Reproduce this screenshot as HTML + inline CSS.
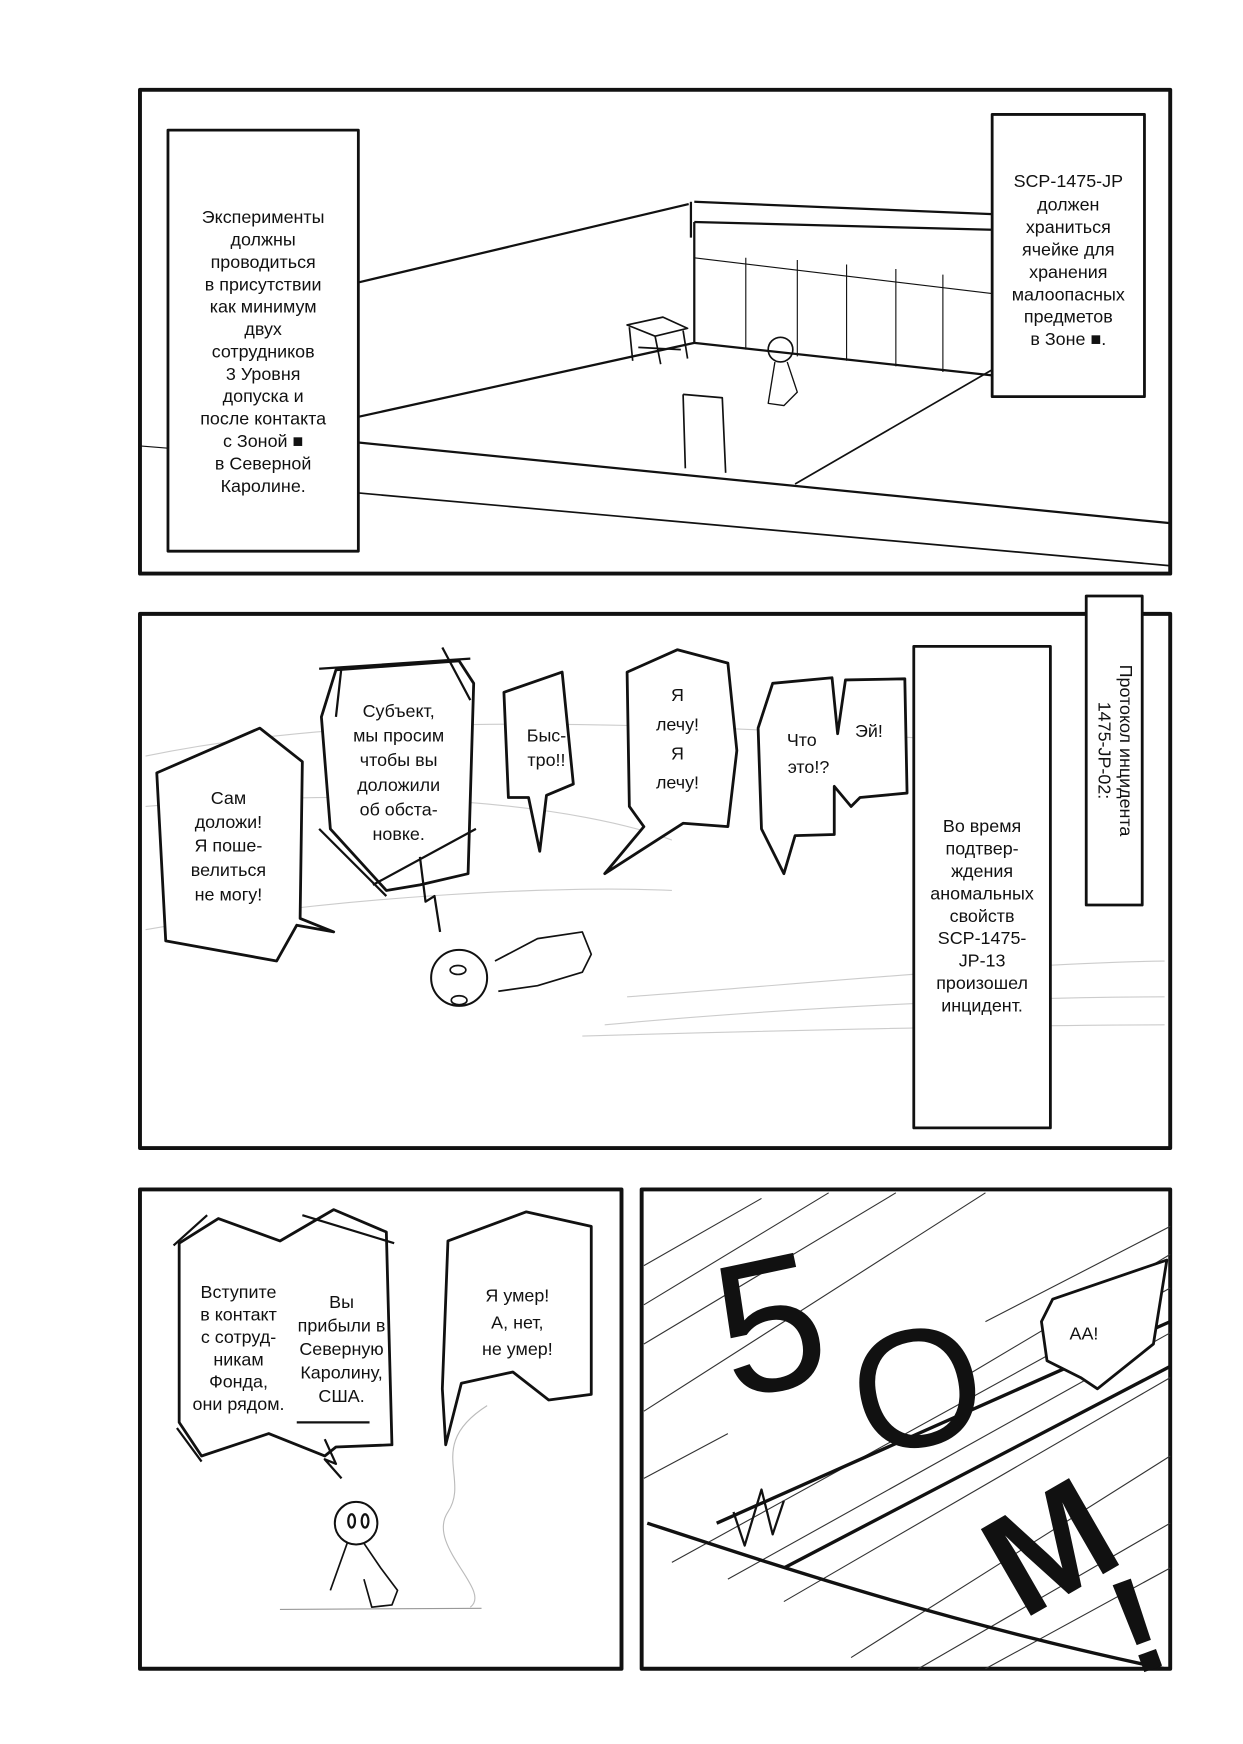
<!DOCTYPE html>
<html><head><meta charset="utf-8"><style>
html,body{margin:0;padding:0;background:#fff}
svg{display:block}
text{font-family:"Liberation Sans Narrow","Liberation Sans","DejaVu Sans",sans-serif;font-size:16px;fill:#111;text-anchor:middle}
</style></head><body>
<svg width="1243" height="1744" viewBox="0 0 1110 1557" xmlns="http://www.w3.org/2000/svg">
<rect width="1110" height="1557" fill="#fff"/>
<g fill="none" stroke="#111" stroke-linejoin="round">
<!-- panel 1 scene -->
<g stroke-width="2">
<path d="M320 252 L615 182"/>
<path d="M617 180 L617 212"/>
<path d="M620 180 L886 191"/>
<path d="M620 198 L886 205"/>
<path d="M620 198 L620 306 L886 335"/>
<path d="M620 230 L886 262" stroke-width="1"/>
<path d="M666 230 L666 312 M712 232 L712 318 M756 236 L756 322 M800 240 L800 327 M842 245 L842 332" stroke-width="1"/>
<path d="M320 372 L620 306"/>
<path d="M320 395 L1045 467"/>
<path d="M320 440 L1045 505" stroke-width="1.5"/>
<path d="M710 432 L886 330" stroke-width="1.5"/>
<path d="M125 398 L150 400" stroke-width="1"/>
<path d="M610 352 L645 355 L648 422 M610 352 L612 418" stroke-width="1.5"/>
<path d="M560 290 L592 283 L614 293 L585 300 Z M562 292 L565 322 M585 300 L590 325 M610 295 L614 320 M570 310 L608 312" stroke-width="1.5"/>
<circle cx="697" cy="312" r="11" stroke-width="1.5"/>
<path d="M692 323 L686 360 L700 362 L712 350 L703 323" stroke-width="1.2"/>
</g>
<!-- panel borders -->
<g stroke-width="3.5">
<rect x="125" y="80" width="920" height="432"/>
<rect x="125" y="548" width="920" height="477"/>
<rect x="125" y="1062" width="430" height="428"/>
<rect x="573" y="1062" width="472" height="428"/>
</g>
<!-- panel 1 captions -->
<g stroke-width="2.5" fill="#fff">
<rect x="150" y="116" width="170" height="376"/>
<rect x="886" y="102" width="136" height="252"/>
</g>
<!-- panel 2 -->
<g stroke="#ccc" stroke-width="1">
<path d="M130 675 C300 640 500 640 840 660"/>
<path d="M130 720 C350 700 520 720 600 750"/>
<path d="M130 830 C300 800 500 790 600 795"/>
<path d="M560 890 C700 880 900 860 1040 858"/>
<path d="M540 915 C700 900 900 890 1040 890"/>
<path d="M520 925 C700 920 900 915 1040 915"/>
</g>
<g stroke-width="2.5" fill="#fff">
<rect x="970" y="532" width="50" height="276"/>
<rect x="816" y="577" width="122" height="430"/>
<path d="M140 690 L232 650 L270 680 L268 820 L298 832 L265 826 L247 858 L148 840 Z"/>
<path d="M287 640 L300 598 L410 590 L423 610 L418 780 L375 790 L345 795 L295 740 Z"/>
<path d="M450 618 L502 600 L512 700 L488 710 L482 760 L472 712 L454 712 Z"/>
<path d="M560 600 L605 580 L650 592 L658 670 L650 738 L610 735 L540 780 L575 738 L562 720 Z"/>
<path d="M690 610 L743 605 L748 655 L755 607 L808 606 L810 708 L768 712 L760 720 L745 702 L745 745 L710 746 L700 780 L680 740 L677 650 Z"/>
</g>
<g stroke-width="2">
<path d="M285 597 L420 588 M300 640 L305 595 M395 578 L420 625 M285 740 L345 800 M333 790 L425 740 M375 765 L380 805 L388 800 L393 832"/>
<circle cx="410" cy="873" r="25" stroke-width="1.8"/>
<ellipse cx="409" cy="866" rx="7" ry="4" stroke-width="1.5"/>
<ellipse cx="410" cy="893" rx="7" ry="4" stroke-width="1.5"/>
<path d="M442 858 L480 838 L520 832 L528 852 L520 868 L480 880 L445 885" stroke-width="1.5"/>
</g>
<!-- panel 3 -->
<g stroke-width="2.5" fill="#fff">
<path d="M160 1110 L195 1088 L250 1108 L298 1080 L345 1100 L350 1290 L300 1292 L290 1300 L240 1280 L180 1300 L160 1270 Z"/>
<path d="M400 1108 L470 1082 L528 1095 L528 1245 L490 1250 L458 1225 L412 1235 L398 1290 L395 1240 Z"/>
</g>
<g stroke-width="2">
<path d="M155 1112 L185 1085 M270 1085 L352 1110 M158 1275 L180 1305 M265 1270 L330 1270 M290 1285 L300 1307 L290 1303 L305 1320"/>
<circle cx="318" cy="1360" r="19" stroke-width="1.8"/>
<ellipse cx="314" cy="1358" rx="3" ry="6"/><ellipse cx="326" cy="1358" rx="3" ry="6"/>
<path d="M310 1378 L295 1420 M325 1378 L340 1400 L355 1420 L350 1433 L332 1435 L325 1410" stroke-width="1.5"/>
<path d="M250 1437 L430 1436" stroke="#999" stroke-width="1"/>
</g>
<path d="M435 1255 C380 1290 420 1320 400 1350 C380 1380 440 1420 420 1435" stroke="#bbb" stroke-width="1"/>
<!-- panel 4 -->
<g stroke-width="1" stroke="#333">
<path d="M575 1130 L680 1070 M575 1165 L740 1065 M575 1200 L800 1065 M575 1260 L880 1065 M575 1320 L650 1280 M880 1180 L1045 1095 M860 1230 L1045 1120 M600 1395 L1045 1150 M650 1410 L1045 1190 M700 1430 L1045 1230 M760 1480 L1045 1300 M820 1490 L1045 1360 M880 1490 L1045 1400"/>
</g>
<g stroke-width="3">
<path d="M640 1360 L1045 1180"/>
<path d="M700 1400 L1045 1220"/>
<path d="M578 1360 C700 1400 850 1450 1040 1490"/>
<path d="M655 1350 L665 1380 L680 1330 L690 1370 L700 1340" stroke-width="2"/>
</g>
<path d="M940 1160 L1042 1125 L1030 1200 L980 1240 L965 1230 L935 1215 L930 1180 Z" fill="#fff" stroke-width="2.5"/>
</g>
<!-- panel 1 text -->
<text x="235" y="199">Эксперименты</text>
<text x="235" y="219">должны</text>
<text x="235" y="239">проводиться</text>
<text x="235" y="259">в присутствии</text>
<text x="235" y="279">как минимум</text>
<text x="235" y="299">двух</text>
<text x="235" y="319">сотрудников</text>
<text x="235" y="339">3 Уровня</text>
<text x="235" y="359">допуска и</text>
<text x="235" y="379">после контакта</text>
<text x="235" y="399">с Зоной ■</text>
<text x="235" y="419">в Северной</text>
<text x="235" y="439">Каролине.</text>
<text x="954" y="167">SCP-1475-JP</text>
<text x="954" y="188">должен</text>
<text x="954" y="208">храниться</text>
<text x="954" y="228">ячейке для</text>
<text x="954" y="248">хранения</text>
<text x="954" y="268">малоопасных</text>
<text x="954" y="288">предметов</text>
<text x="954" y="308">в Зоне ■.</text>
<!-- panel 2 text -->
<text transform="translate(1000,670) rotate(90)">Протокол инцидента</text>
<text transform="translate(981,670) rotate(90)">1475-JP-02:</text>
<text x="877" y="743">Во время</text>
<text x="877" y="763">подтвер-</text>
<text x="877" y="783">ждения</text>
<text x="877" y="803">аномальных</text>
<text x="877" y="823">свойств</text>
<text x="877" y="843">SCP-1475-</text>
<text x="877" y="863">JP-13</text>
<text x="877" y="883">произошел</text>
<text x="877" y="903">инцидент.</text>
<text x="204" y="718">Сам</text>
<text x="204" y="739">доложи!</text>
<text x="204" y="760">Я поше-</text>
<text x="204" y="782">велиться</text>
<text x="204" y="804">не могу!</text>
<text x="356" y="640">Субъект,</text>
<text x="356" y="662">мы просим</text>
<text x="356" y="684">чтобы вы</text>
<text x="356" y="706">доложили</text>
<text x="356" y="728">об обста-</text>
<text x="356" y="750">новке.</text>
<text x="488" y="662">Быс-</text>
<text x="488" y="684">тро!!</text>
<text x="605" y="626">Я</text>
<text x="605" y="652">лечу!</text>
<text x="605" y="678">Я</text>
<text x="605" y="704">лечу!</text>
<text x="716" y="666">Что</text>
<text x="722" y="690">это!?</text>
<text x="776" y="658">Эй!</text>
<!-- panel 3 text -->
<text x="213" y="1159">Вступите</text>
<text x="213" y="1179">в контакт</text>
<text x="213" y="1199">с сотруд-</text>
<text x="213" y="1219">никам</text>
<text x="213" y="1239">Фонда,</text>
<text x="213" y="1259">они рядом.</text>
<text x="305" y="1168">Вы</text>
<text x="305" y="1189">прибыли в</text>
<text x="305" y="1210">Северную</text>
<text x="305" y="1231">Каролину,</text>
<text x="305" y="1252">США.</text>
<text x="462" y="1162">Я умер!</text>
<text x="462" y="1186">А, нет,</text>
<text x="462" y="1210">не умер!</text>
<!-- panel 4 text -->
<text x="968" y="1196">АА!</text>
<text transform="translate(700,1240) rotate(-12)" style="font-size:170px;font-weight:normal">5</text>
<text transform="translate(830,1290) rotate(-12)" style="font-size:150px">O</text>
<text transform="translate(960,1420) rotate(-30)" style="font-size:130px;font-weight:bold">М</text>
<text transform="translate(1030,1490) rotate(-20)" style="font-size:120px;font-weight:bold">!</text>
</svg>
</body></html>
